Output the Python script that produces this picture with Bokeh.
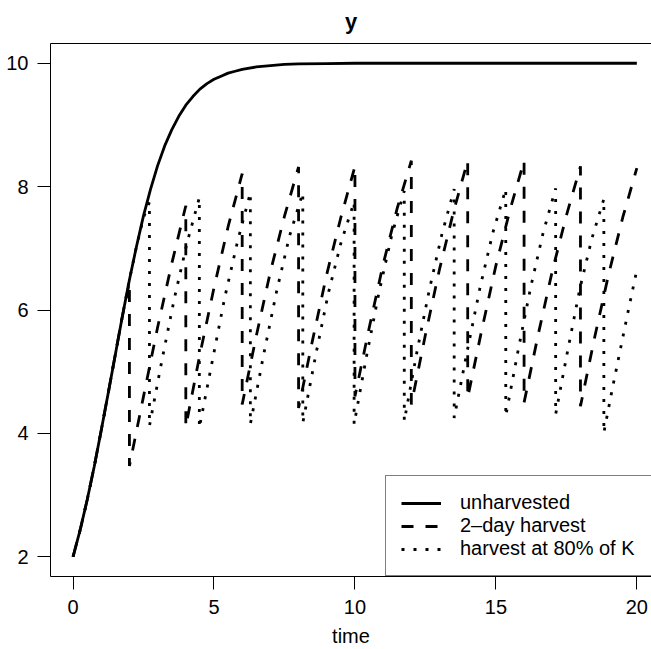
from bokeh.plotting import figure
from bokeh.models import Range1d, FixedTicker, LinearAxis, Legend, LegendItem
from bokeh.embed import file_html
from bokeh.resources import INLINE

# ---- data ----
unharv_t = [0, 0.25, 0.5, 0.75, 1, 1.25, 1.5, 1.75, 2, 2.25, 2.5, 2.75, 3, 3.25,
            3.5, 3.75, 4, 4.25, 4.5, 4.75, 5, 5.25, 5.5, 5.75, 6, 6.5, 7, 7.5,
            8, 9, 10, 12, 14, 16, 18, 20]
unharv_y = [2.0, 2.43, 2.92, 3.46, 4.05, 4.66, 5.28, 5.90, 6.49, 7.03, 7.53,
            7.96, 8.34, 8.66, 8.92, 9.14, 9.32, 9.46, 9.58, 9.67, 9.74, 9.79,
            9.84, 9.87, 9.90, 9.94, 9.96, 9.98, 9.99, 9.995, 10.0, 10.0, 10.0,
            10.0, 10.0, 10.0]

harv2_t = [0, 0.25, 0.5, 0.75, 1, 1.25, 1.5, 1.75, 2,
           2, 2.5, 3, 3.5, 4,
           4, 4.5, 5, 5.5, 6,
           6, 6.5, 7, 7.5, 8,
           8, 8.5, 9, 9.5, 10,
           10, 10.5, 11, 11.5, 12,
           12, 12.5, 13, 13.5, 14,
           14, 14.5, 15, 15.5, 16,
           16, 16.5, 17, 17.5, 18,
           18, 18.5, 19, 19.5, 20]
harv2_y = [2.0, 2.43, 2.92, 3.46, 4.05, 4.66, 5.28, 5.90, 6.45,
           3.47, 4.60, 5.72, 6.75, 7.69,
           4.11, 5.28, 6.36, 7.35, 8.21,
           4.47, 5.58, 6.62, 7.52, 8.32,
           4.41, 5.52, 6.58, 7.50, 8.33,
           4.60, 5.70, 6.74, 7.65, 8.42,
           4.47, 5.60, 6.66, 7.60, 8.42,
           4.58, 5.68, 6.72, 7.62, 8.42,
           4.50, 5.60, 6.63, 7.53, 8.33,
           4.44, 5.55, 6.58, 7.50, 8.30]

harv80_t = [0, 0.25, 0.5, 0.75, 1, 1.25, 1.5, 1.75, 2, 2.25, 2.5, 2.71,
            2.71, 3.15, 3.6, 4.05, 4.48,
            4.48, 4.93, 5.38, 5.84, 6.29,
            6.29, 6.75, 7.22, 7.68, 8.15,
            8.15, 8.6, 9.06, 9.51, 9.97,
            9.97, 10.41, 10.86, 11.3, 11.75,
            11.75, 12.19, 12.64, 13.08, 13.52,
            13.52, 13.98, 14.44, 14.89, 15.35,
            15.35, 15.79, 16.24, 16.68, 17.12,
            17.12, 17.55, 17.98, 18.4, 18.83,
            18.83, 19.12, 19.41, 19.7, 20]
harv80_y = [2.0, 2.43, 2.92, 3.46, 4.05, 4.66, 5.28, 5.90, 6.49, 7.03, 7.50, 7.75,
            4.12, 5.18, 6.20, 7.10, 7.82,
            4.09, 5.15, 6.20, 7.12, 7.90,
            4.15, 5.25, 6.30, 7.20, 7.90,
            4.17, 5.25, 6.28, 7.10, 7.75,
            4.15, 5.25, 6.30, 7.20, 7.93,
            4.20, 5.30, 6.33, 7.22, 7.96,
            4.25, 5.33, 6.37, 7.25, 7.96,
            4.28, 5.35, 6.38, 7.26, 7.97,
            4.31, 5.35, 6.35, 7.15, 7.80,
            4.01, 4.70, 5.35, 6.00, 6.65]

x_ticks = [0, 5, 10, 15, 20]
y_ticks = [2, 4, 6, 8, 10]
series_labels = ["unharvested", "2\u2013day harvest", "harvest at 80% of K"]

FONT = "Liberation Sans"
FS = "20px"

p = figure(width=651, height=649, output_backend="svg", toolbar_location=None,
           x_range=Range1d(-0.8, 20.52), y_range=Range1d(1.68, 10.32),
           min_border_left=50, min_border_right=0, min_border_top=43,
           min_border_bottom=73, title="y")
p.background_fill_color = "white"
p.border_fill_color = "white"
p.outline_line_color = None
p.grid.visible = False

p.title.align = "center"
p.title.vertical_align = "top"
p.title.text_font = FONT
p.title.text_font_size = "22px"
p.title.text_font_style = "bold"
p.title.text_color = "black"
p.title.standoff = 16
p.title.offset = 5

for ax, ticks in ((p.xaxis[0], x_ticks), (p.yaxis[0], y_ticks)):
    ax.ticker = FixedTicker(ticks=ticks)
    ax.major_tick_out = 13
    ax.major_tick_in = 0
    ax.minor_tick_out = 0
    ax.minor_tick_in = 0
    ax.major_label_text_font = FONT
    ax.major_label_text_font_size = FS
    ax.major_label_text_color = "black"
    ax.axis_line_color = "black"
    ax.major_tick_line_color = "black"
    ax.axis_label_text_font = FONT
    ax.axis_label_text_font_size = FS
    ax.axis_label_text_font_style = "normal"
    ax.axis_label_text_color = "black"

p.xaxis.axis_label = "time"
p.xaxis.major_label_standoff = 10
p.xaxis.axis_label_standoff = 8
p.yaxis.major_label_standoff = 9
p.yaxis.major_label_orientation = "horizontal"

top_axis = LinearAxis(ticker=FixedTicker(ticks=[]), major_tick_out=0, major_tick_in=0,
                      minor_tick_out=0, minor_tick_in=0,
                      major_label_text_font_size="0px", axis_line_color="black")
p.add_layout(top_axis, "above")

LW = 2.8
r1 = p.line(unharv_t, unharv_y, line_color="black", line_width=LW)
r2 = p.line(harv2_t, harv2_y, line_color="black", line_width=LW, line_dash="12 12")
r3 = p.line(harv80_t, harv80_y, line_color="black", line_width=LW, line_dash="3 9")

legend = Legend(items=[LegendItem(label=series_labels[0], renderers=[r1]),
                       LegendItem(label=series_labels[1], renderers=[r2]),
                       LegendItem(label=series_labels[2], renderers=[r3])],
                location=(335, 0), orientation="vertical",
                border_line_color="black", border_line_width=1,
                background_fill_color="white", background_fill_alpha=1,
                padding=15, spacing=0, margin=0,
                glyph_width=40, glyph_height=22, label_height=22,
                label_standoff=19, label_width=220,
                label_text_font=FONT, label_text_font_size=FS,
                label_text_color="black")
p.add_layout(legend, "center")

open("out.html", "w").write(file_html(p, INLINE))
